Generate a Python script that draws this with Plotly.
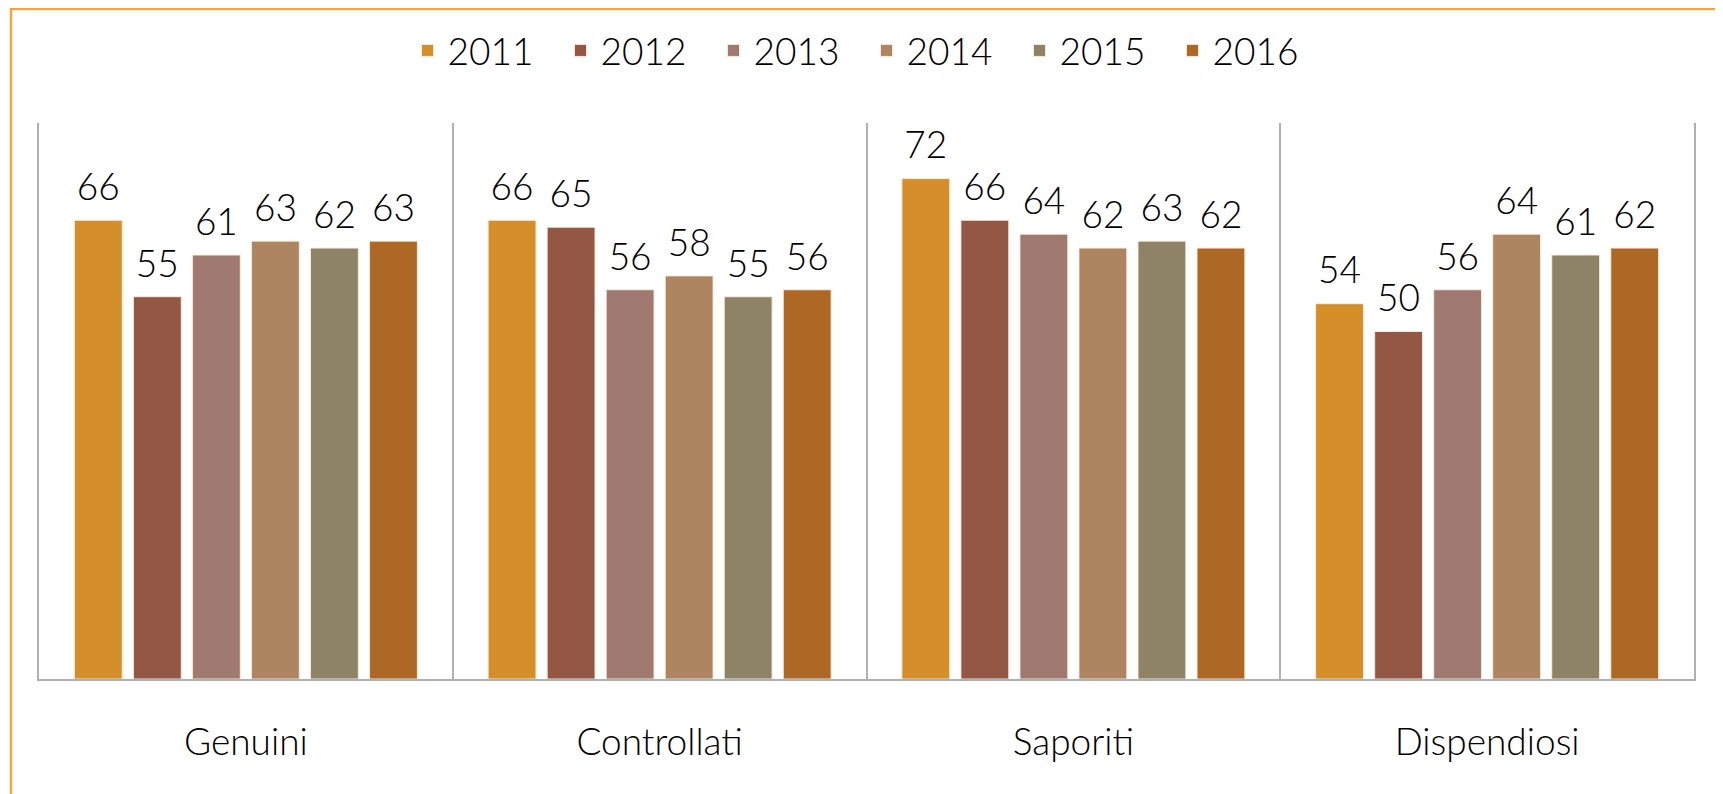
import plotly.graph_objects as go

categories = ["Genuini", "Controllati", "Saporiti", "Dispendiosi"]
years = ["2011", "2012", "2013", "2014", "2015", "2016"]
v2011 = [66, 66, 72, 54]
v2012 = [55, 65, 66, 50]
v2013 = [61, 56, 64, 56]
v2014 = [63, 58, 62, 64]
v2015 = [62, 55, 63, 61]
v2016 = [63, 56, 62, 62]

series = [v2011, v2012, v2013, v2014, v2015, v2016]
colors = ["#D48F2B", "#935744", "#A07A70", "#AD8560", "#8E8366", "#AD6825"]

FONT = "Lato"
FS = 37

fig = go.Figure()
for i, (name, vals, col) in enumerate(zip(years, series, colors)):
    fig.add_trace(go.Bar(
        x=categories, y=vals, name=name, offsetgroup=str(i),
        marker=dict(color=col, line=dict(color="rgba(255,235,220,0.9)", width=1)),
    ))
# value labels: invisible grouped markers so the text sits a bit above the bars
for i, vals in enumerate(series):
    fig.add_trace(go.Scatter(
        x=categories, y=vals, mode="markers+text", offsetgroup=str(i),
        text=vals, textposition="top center", showlegend=False, hoverinfo="skip",
        marker=dict(size=16, opacity=0), cliponaxis=False,
        textfont=dict(family=FONT, size=FS, color="black", weight=300),
    ))

fig.update_layout(
    width=1723, height=794,
    paper_bgcolor="white", plot_bgcolor="white",
    margin=dict(l=31, r=37, t=115, b=123),
    barmode="group", bargap=0.144, bargroupgap=0.19,
    scattermode="group", scattergap=0.144,
    font=dict(family=FONT, color="black", weight=300),
    showlegend=True,
    legend=dict(orientation="h", xanchor="center", x=0.5, yref="container",
                yanchor="middle", y=0.946, font=dict(family=FONT, size=FS, weight=300),
                entrywidth=108, traceorder="normal"),
    # outer orange frame
    shapes=[dict(type="rect", xref="paper", yref="paper",
                 x0=-28 / 1655, x1=1683 / 1655, y0=-0.3, y1=1 + 114 / 556,
                 line=dict(color="#F4A43A", width=2.5), layer="below")],
)

fig.update_xaxes(
    type="category", tickson="boundaries", showgrid=True, gridcolor="#B0B0B0", gridwidth=1.5,
    showline=True, linecolor="#B0B0B0", linewidth=2, ticks="",
    tickfont=dict(family=FONT, size=FS, color="black", weight=300), ticklabelstandoff=30,
)
fig.update_yaxes(
    range=[0, 80], showgrid=False, zeroline=False, showticklabels=False,
    showline=True, mirror=True, linecolor="#B0B0B0", linewidth=1.5,
)

fig.write_html("out.html")
